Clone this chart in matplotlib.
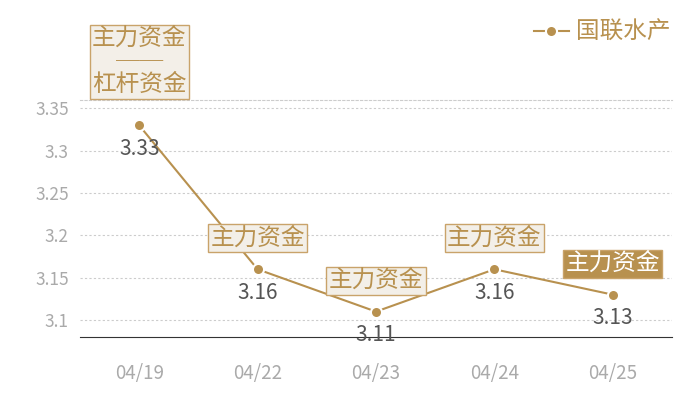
import matplotlib
matplotlib.use('Agg')
import matplotlib.pyplot as plt

plt.rcParams['font.family'] = ['Noto Sans CJK SC', 'DejaVu Sans']

dates = ['04/19', '04/22', '04/23', '04/24', '04/25']
values = [3.33, 3.16, 3.11, 3.16, 3.13]
tags = ['主力资金\n──\n杠杆资金', '主力资金', '主力资金', '主力资金', '主力资金']
yticks = [3.1, 3.15, 3.2, 3.25, 3.3, 3.35]

gold = '#b8914f'
box_bg = '#f3efe8'

fig = plt.figure(figsize=(7, 4), dpi=100)
ax = fig.add_axes([80 / 700, 63 / 400, 592 / 700, 237 / 400])

x = list(range(len(dates)))
ax.plot(x, values, color=gold, lw=1.5, marker='o', ms=8, mec='white', mew=1.5,
        label='国联水产', zorder=3)

ax.set_xlim(-0.5, len(dates) - 0.5)
ax.set_ylim(3.08, 3.36)
ax.set_xticks(x)
ax.set_xticklabels(dates)
ax.set_yticks(yticks)
ax.set_yticklabels(['3.1', '3.15', '3.2', '3.25', '3.3', '3.35'])
ax.tick_params(axis='both', length=0, colors='#aaaaaa', labelsize=12.5)
ax.tick_params(axis='x', pad=19, labelsize=13.5)
ax.tick_params(axis='y', pad=8)

ax.grid(axis='y', ls=(0, (2, 2)), color='#cccccc', lw=0.8)
for s in ['left', 'right']:
    ax.spines[s].set_visible(False)
ax.spines['top'].set_linestyle((0, (2, 2)))
ax.spines['top'].set_color('#cccccc')
ax.spines['top'].set_linewidth(0.8)
ax.spines['bottom'].set_color('#333333')

for i, (v, t) in enumerate(zip(values, tags)):
    ax.annotate(f'{v:.2f}', (i, v), xytext=(0, -9), textcoords='offset points',
                ha='center', va='top', fontsize=15, color='#555555')
    last = i == len(values) - 1
    off = 21 if i == 0 else 14
    ax.annotate(t, (i, v), xytext=(0, off), textcoords='offset points',
                ha='center', va='bottom', fontsize=17,
                color='white' if last else gold, linespacing=1.0,
                bbox=dict(boxstyle='square,pad=0.1',
                          fc=gold if last else box_bg,
                          ec='#c9a36a', lw=1),
                annotation_clip=False)

leg = ax.legend(loc='upper right', bbox_to_anchor=(692 / 700, 400 / 400),
                bbox_transform=fig.transFigure, frameon=False,
                fontsize=17, handlelength=1.5, handletextpad=0.3)
for txt in leg.get_texts():
    txt.set_color(gold)

fig.savefig('out.png', dpi=100)
